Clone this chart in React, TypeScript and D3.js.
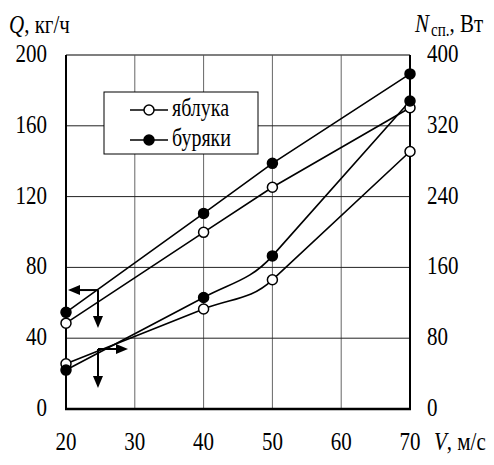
import React from 'react';
import * as d3 from 'd3';

const width = 494;
const height = 465;
const margin = { top: 55, right: 84, bottom: 56, left: 66 };

// V, м/с
const speeds = [20, 40, 50, 70];
// Q, кг/ч (left axis)
const qApple = [48.5, 99.8, 125.3, 170.2];
const qBeet = [54.6, 110.5, 138.8, 189.3];
// N сп., Вт (right axis)
const nApple = [51, 113, 146, 291];
const nBeet = [44, 126, 173, 348];

const xTicks = [20, 30, 40, 50, 60, 70];
const qTicks = [0, 40, 80, 120, 160, 200];
const nTicks = [0, 80, 160, 240, 320, 400];
const legendLabels = ['яблука', 'буряки'];

// arrow origins (V, Q)
const arrowLeft = [24.65, 67.2];
const arrowRight = [24.65, 33.9];

const font = 'Liberation Serif, Times New Roman, serif';
const sy = 1.22;

const x = d3.scaleLinear().domain([20, 70]).range([margin.left, width - margin.right]);
const yQ = d3.scaleLinear().domain([0, 200]).range([height - margin.bottom, margin.top]);
const yN = d3.scaleLinear().domain([0, 400]).range([height - margin.bottom, margin.top]);

const Txt = ({ x: tx, y: ty, anchor = 'start', size = 21, children }: any) => (
  <text
    transform={`translate(${tx},${ty}) scale(1,${sy})`}
    textAnchor={anchor}
    style={{ fontFamily: font, fontSize: size }}
    fill="#000"
  >
    {children}
  </text>
);

const Arrow = ({ x1, y1, x2, y2 }: any) => {
  const a = Math.atan2(y2 - y1, x2 - x1);
  const L = 12, w = 5;
  const bx = x2 - L * Math.cos(a), by = y2 - L * Math.sin(a);
  const px = -Math.sin(a) * w, py = Math.cos(a) * w;
  return (
    <g>
      <line x1={x1} y1={y1} x2={bx} y2={by} stroke="#000" strokeWidth={2} />
      <path d={`M${x2},${y2}L${bx + px},${by + py}L${bx - px},${by - py}Z`} fill="#000" />
    </g>
  );
};

// straight segments, except a smooth bend between the 2nd and 3rd point
const bentPath = (pts: number[][]) => {
  const p = pts.map(d => [x(d[0]), d[1]]);
  const path = d3.path();
  path.moveTo(p[0][0], p[0][1]);
  path.lineTo(p[1][0], p[1][1]);
  const seg = Math.hypot(p[2][0] - p[1][0], p[2][1] - p[1][1]) * 0.4;
  const d1 = [p[1][0] - p[0][0], p[1][1] - p[0][1]];
  const l1 = Math.hypot(d1[0], d1[1]);
  const d2 = [p[3][0] - p[2][0], p[3][1] - p[2][1]];
  const l2 = Math.hypot(d2[0], d2[1]);
  path.bezierCurveTo(
    p[1][0] + (d1[0] / l1) * seg, p[1][1] + (d1[1] / l1) * seg,
    p[2][0] - (d2[0] / l2) * seg, p[2][1] - (d2[1] / l2) * seg,
    p[2][0], p[2][1]
  );
  path.lineTo(p[3][0], p[3][1]);
  return path.toString();
};

export default function App() {
  const lineLin = d3.line<number[]>().x(d => x(d[0])).y(d => d[1]);

  const series = [
    { pts: speeds.map((v, i) => [v, yQ(qApple[i])]), filled: false, curve: false },
    { pts: speeds.map((v, i) => [v, yQ(qBeet[i])]), filled: true, curve: false },
    { pts: speeds.map((v, i) => [v, yN(nApple[i])]), filled: false, curve: true },
    { pts: speeds.map((v, i) => [v, yN(nBeet[i])]), filled: true, curve: true },
  ];

  const x0 = margin.left, x1 = width - margin.right;
  const y0 = height - margin.bottom, y1 = margin.top;

  const la = [x(arrowLeft[0]), yQ(arrowLeft[1])];
  const ra = [x(arrowRight[0]), yQ(arrowRight[1])];

  return (
    <svg width={width} height={height} style={{ position: 'absolute', left: 0, top: 0, background: '#fff' }}>
      {/* grid */}
      {xTicks.slice(1, -1).map(t => (
        <line key={'vx' + t} x1={x(t)} x2={x(t)} y1={y1} y2={y0} stroke="#666" strokeWidth={1} />
      ))}
      {qTicks.slice(1, -1).map(t => (
        <line key={'hy' + t} x1={x0} x2={x1} y1={yQ(t)} y2={yQ(t)} stroke="#222" strokeWidth={1} />
      ))}
      <line x1={x0} x2={x1} y1={y1} y2={y1} stroke="#555" strokeWidth={1.5} />
      <line x1={x0} x2={x0} y1={y1} y2={y0} stroke="#000" strokeWidth={2} />
      <line x1={x1} x2={x1} y1={y1} y2={y0} stroke="#000" strokeWidth={2} />
      <line x1={x0 - 1} x2={x1 + 1} y1={y0} y2={y0} stroke="#000" strokeWidth={2.5} />

      {/* tick labels */}
      {qTicks.map(t => (
        <Txt key={'q' + t} x={47} y={yQ(t) + 7} anchor="end">{t}</Txt>
      ))}
      {nTicks.map(t => (
        <Txt key={'n' + t} x={427} y={yN(t) + 7}>{t}</Txt>
      ))}
      {xTicks.map(t => (
        <Txt key={'x' + t} x={x(t)} y={450} anchor="middle">{t}</Txt>
      ))}

      {/* axis titles */}
      <text transform={`translate(9,33) scale(1,${sy})`} style={{ fontFamily: font, fontSize: 21 }}>
        <tspan fontStyle="italic">Q</tspan>
        <tspan>, кг/ч</tspan>
      </text>
      <text transform={`translate(415,32) scale(1,${sy})`} style={{ fontFamily: font, fontSize: 21 }}>
        <tspan fontStyle="italic">N</tspan>
        <tspan fontSize={15} dy={3} dx={2}>сп.</tspan>
        <tspan dy={-3}>, Вт</tspan>
      </text>
      <text transform={`translate(434,450) scale(1,${sy})`} style={{ fontFamily: font, fontSize: 21 }}>
        <tspan fontStyle="italic">V</tspan>
        <tspan>, м/с</tspan>
      </text>

      {/* series */}
      {series.map((s, i) => (
        <path
          key={'l' + i}
          d={(s.curve ? bentPath(s.pts) : lineLin(s.pts)) || ''}
          fill="none"
          stroke="#000"
          strokeWidth={1.6}
        />
      ))}
      {series.map((s, i) =>
        s.pts.map((p, j) => (
          <circle
            key={'c' + i + '-' + j}
            cx={x(p[0])}
            cy={p[1]}
            r={5}
            fill={s.filled ? '#000' : '#fff'}
            stroke="#000"
            strokeWidth={1.5}
          />
        ))
      )}

      {/* axis arrows */}
      <Arrow x1={la[0]} y1={la[1]} x2={la[0] - 30} y2={la[1]} />
      <Arrow x1={la[0]} y1={la[1]} x2={la[0]} y2={la[1] + 38} />
      <Arrow x1={ra[0]} y1={ra[1]} x2={ra[0] + 30} y2={ra[1]} />
      <Arrow x1={ra[0]} y1={ra[1]} x2={ra[0]} y2={ra[1] + 39} />

      {/* legend */}
      <g>
        <rect x={104} y={92} width={154} height={62} fill="#fff" stroke="#000" strokeWidth={1} />
        {legendLabels.map((lab, i) => {
          const ly = 110 + i * 30;
          return (
            <g key={lab}>
              <line x1={130} x2={168} y1={ly} y2={ly} stroke="#000" strokeWidth={1.6} />
              <circle cx={149} cy={ly} r={5} fill={i === 1 ? '#000' : '#fff'} stroke="#000" strokeWidth={1.5} />
              <Txt x={172} y={ly + 6} size={20}>{lab}</Txt>
            </g>
          );
        })}
      </g>
    </svg>
  );
}
